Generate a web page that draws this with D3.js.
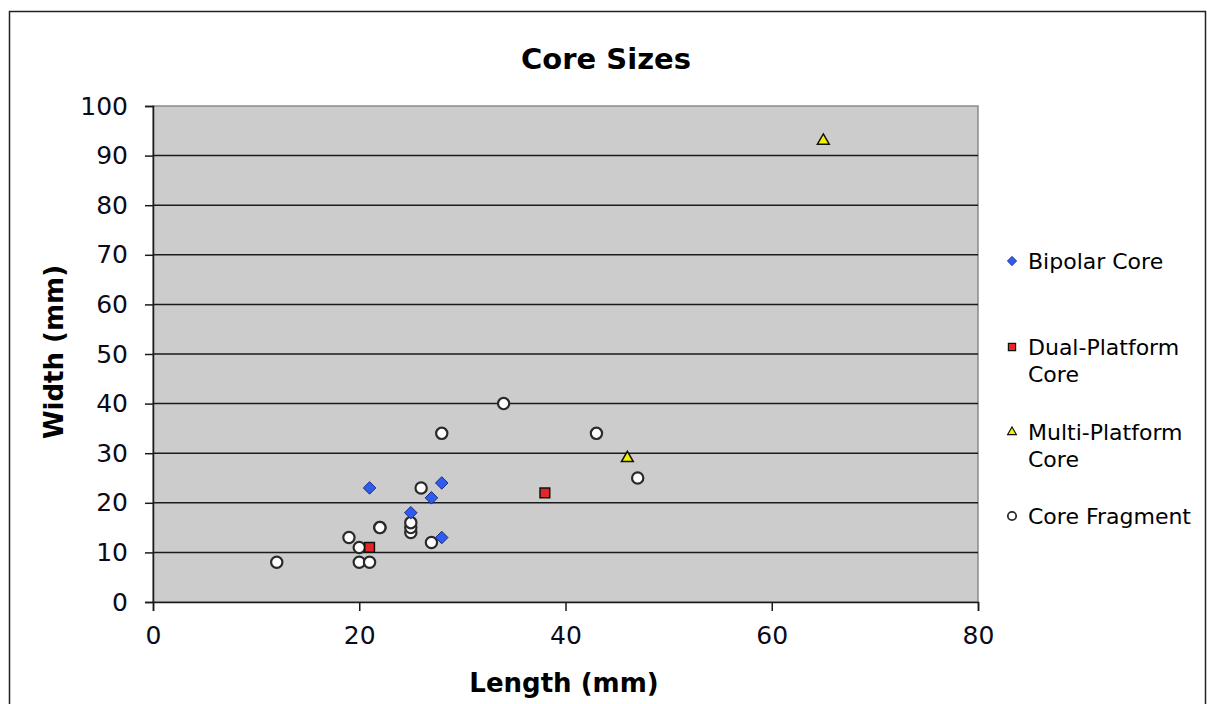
<!DOCTYPE html>
<html><head><meta charset="utf-8">
<script src="https://cdn.jsdelivr.net/npm/d3@7"></script>
<style>body{margin:0;background:#fff;} text{font-family:"DejaVu Sans",Verdana,sans-serif;}</style>
</head><body>
<svg id="c" width="1207" height="704"></svg>
<script>
const title = "Core Sizes";
const xLabel = "Length (mm)";
const yLabel = "Width (mm)";
const xTicks = [0, 20, 40, 60, 80];
const yTicks = [0, 10, 20, 30, 40, 50, 60, 70, 80, 90, 100];
const seriesNames = ["Bipolar Core", "Dual-Platform Core", "Multi-Platform Core", "Core Fragment"];
const bipolarX = [21, 28, 27, 25, 28];
const bipolarY = [23, 24, 21, 18, 13];
const dualX = [21, 38];
const dualY = [11, 22];
const multiX = [46, 65];
const multiY = [29, 93];
const fragX = [12, 20, 21, 20, 19, 22, 22, 25, 25, 25, 27, 26, 28, 34, 43, 47];
const fragY = [8, 8, 8, 11, 13, 15, 15, 14, 15, 16, 12, 23, 34, 40, 34, 25];

const svg = d3.select("#c");
const L = 153, R = 978, T = 106, B = 602;
const x = d3.scaleLinear().domain([0, 80]).range([L, R]);
const y = d3.scaleLinear().domain([0, 100]).range([B, T]);

// outer frame
svg.append("rect").attr("x", 9.5).attr("y", 11.5).attr("width", 1196).attr("height", 760)
  .attr("fill", "#fff").attr("stroke", "#222").attr("stroke-width", 1.5);

// plot area
svg.append("rect").attr("x", L).attr("y", T).attr("width", R - L).attr("height", B - T)
  .attr("fill", "#cccccc").attr("stroke", "#8a8a8a").attr("stroke-width", 1.5);

// gridlines
svg.append("g").selectAll("line").data(yTicks.filter(d => d > 0 && d < 100)).join("line")
  .attr("x1", L).attr("x2", R).attr("y1", d => y(d)).attr("y2", d => y(d))
  .attr("stroke", "#1a1a1a").attr("stroke-width", 1.5);

// axes
const yAxis = d3.axisLeft(y).tickValues(yTicks).tickSize(8).tickPadding(17).tickFormat(d3.format("d"));
const gy = svg.append("g").attr("transform", `translate(${L},0)`).call(yAxis);
gy.select(".domain").attr("stroke", "#1a1a1a").attr("stroke-width", 1.5);
gy.selectAll(".tick line").attr("stroke", "#1a1a1a").attr("stroke-width", 1.5);
gy.selectAll(".tick text").attr("font-size", 25).attr("fill", "#0a0a1a").style("font-family", "'DejaVu Sans'");

const xAxis = d3.axisBottom(x).tickValues(xTicks).tickSize(9).tickPadding(15).tickFormat(d3.format("d"));
const gx = svg.append("g").attr("transform", `translate(0,${B})`).call(xAxis);
gx.select(".domain").attr("stroke", "#1a1a1a").attr("stroke-width", 1.5);
gx.selectAll(".tick line").attr("stroke", "#1a1a1a").attr("stroke-width", 1.5);
gx.selectAll(".tick text").attr("font-size", 25).attr("fill", "#0a0a1a").style("font-family", "'DejaVu Sans'");

// titles
svg.append("text").attr("x", 606).attr("y", 69).attr("text-anchor", "middle")
  .attr("font-size", 29).attr("font-weight", "bold").text(title);
svg.append("text").attr("x", 564).attr("y", 692).attr("text-anchor", "middle")
  .attr("font-size", 26).attr("font-weight", "bold").text(xLabel);
svg.append("text").attr("transform", "translate(63,352) rotate(-90)").attr("text-anchor", "middle")
  .attr("font-size", 26).attr("font-weight", "bold").text(yLabel);

// symbol styles
const styles = [
  {type: d3.symbolDiamond2, size: 100, fill: "#2f5cf0", stroke: "#1a2a80", sw: 1},
  {type: d3.symbolSquare2, size: 120, fill: "#e4262b", stroke: "#111", sw: 1.5},
  {type: d3.symbolTriangle2, size: 100, fill: "#f2f200", stroke: "#111", sw: 1.5},
  {type: d3.symbolCircle, size: 100, fill: "#ffffff", stroke: "#2a2a2a", sw: 2.2}
];
const series = [
  {xs: bipolarX, ys: bipolarY, s: styles[0]},
  {xs: dualX, ys: dualY, s: styles[1]},
  {xs: multiX, ys: multiY, s: styles[2]},
  {xs: fragX, ys: fragY, s: styles[3]}
];
const drawOrder = [3, 0, 1, 2];
drawOrder.forEach(i => {
  const sr = series[i];
  const pts = sr.xs.map((v, k) => [v, sr.ys[k]]);
  svg.append("g").selectAll("path").data(pts).join("path")
    .attr("transform", d => `translate(${x(d[0])},${y(d[1])})`)
    .attr("d", d3.symbol().type(sr.s.type).size(sr.s.size))
    .attr("fill", sr.s.fill).attr("stroke", sr.s.stroke).attr("stroke-width", sr.s.sw);
});

// legend
const legendY = [261, 347, 432, 516];
const legendLines = [["Bipolar Core"], ["Dual-Platform", "Core"], ["Multi-Platform", "Core"], ["Core Fragment"]];
const lg = svg.append("g");
seriesNames.forEach((n, i) => {
  const s = styles[i];
  lg.append("path").attr("transform", `translate(1012,${legendY[i]})`)
    .attr("d", d3.symbol().type(s.type).size(s.size * 0.55))
    .attr("fill", s.fill).attr("stroke", s.stroke).attr("stroke-width", s.sw * 0.8);
  const t = lg.append("text").attr("x", 1028).attr("y", legendY[i] + 7.5).attr("font-size", 22);
  legendLines[i].forEach((ln, j) => t.append("tspan").attr("x", 1028).attr("dy", j === 0 ? 0 : 27).text(ln));
});
</script>
</body></html>
